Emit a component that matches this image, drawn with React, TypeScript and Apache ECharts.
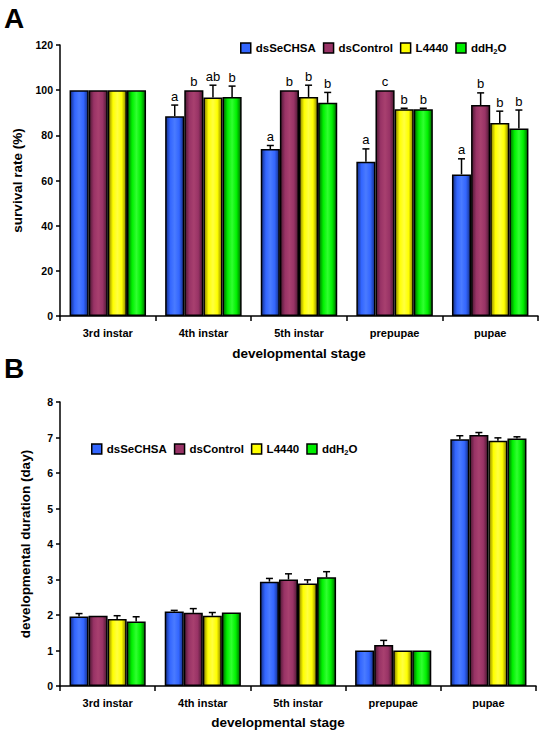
import React, { useEffect, useRef } from 'react';
import * as echarts from 'echarts';

const stages = ['3rd instar', '4th instar', '5th instar', 'prepupae', 'pupae'];
const treatments = ['dsSeCHSA', 'dsControl', 'L4440', 'ddH2O'];
const mainColors = ['#3366FF', '#993366', '#FFFF00', '#00F000'];
const darkColors = ['#15308a', '#4d1933', '#8a8200', '#006a00'];
const lightColors = ['#4a7bff', '#a8406f', '#ffff40', '#30ff30'];

// Panel A: survival rate (%)
const survDsSeCHSA = [100, 88.5, 73.9, 68.3, 62.7];
const survDsSeCHSAErr = [0, 4.9, 1.6, 5.7, 6.9];
const survDsControl = [100, 100, 100, 100, 93.4];
const survDsControlErr = [0, 0, 0, 0, 5.4];
const survL4440 = [100, 96.8, 97.0, 91.5, 85.5];
const survL4440Err = [0, 5.4, 5.2, 0.5, 5.2];
const survDdH2O = [100, 97.0, 94.4, 91.5, 83.0];
const survDdH2OErr = [0, 4.8, 4.6, 0.5, 8.2];
const survLetters = [
  ['', 'a', 'a', 'a', 'a'],
  ['', 'b', 'b', 'c', 'b'],
  ['', 'ab', 'b', 'b', 'b'],
  ['', 'b', 'b', 'b', 'b'],
];

// Panel B: developmental duration (day)
const durDsSeCHSA = [1.96, 2.10, 2.94, 1.0, 6.95];
const durDsSeCHSAErr = [0.08, 0.03, 0.09, 0, 0.10];
const durDsControl = [1.98, 2.06, 3.0, 1.155, 7.07];
const durDsControlErr = [0, 0.12, 0.16, 0.13, 0.07];
const durL4440 = [1.89, 1.98, 2.89, 1.0, 6.91];
const durL4440Err = [0.09, 0.09, 0.10, 0, 0.08];
const durDdH2O = [1.82, 2.07, 3.06, 1.0, 6.97];
const durDdH2OErr = [0.13, 0, 0.16, 0, 0.05];

const FONT = "'Liberation Sans', Arial, Helvetica, sans-serif";

function gradient(k: number) {
  return new echarts.graphic.LinearGradient(0, 0, 1, 0, [
    { offset: 0, color: darkColors[k] },
    { offset: 0.25, color: mainColors[k] },
    { offset: 0.5, color: lightColors[k] },
    { offset: 0.75, color: mainColors[k] },
    { offset: 1, color: darkColors[k] },
  ]);
}

export default function App() {
  const ref = useRef<HTMLDivElement>(null);
  useEffect(() => {
    document.body.style.margin = '0';
    if (!ref.current) return;
    const chart = echarts.init(ref.current, null, { renderer: 'svg' });

    const survMeans = [survDsSeCHSA, survDsControl, survL4440, survDdH2O];
    const survErrs = [survDsSeCHSAErr, survDsControlErr, survL4440Err, survDdH2OErr];
    const durMeans = [durDsSeCHSA, durDsControl, durL4440, durDdH2O];
    const durErrs = [durDsSeCHSAErr, durDsControlErr, durL4440Err, durDdH2OErr];

    const series: any[] = [];
    const panels = [
      { means: survMeans, errs: survErrs, letters: survLetters },
      { means: durMeans, errs: durErrs, letters: null as any },
    ];
    panels.forEach((p, pi) => {
      treatments.forEach((t, k) => {
        series.push({
          type: 'bar',
          name: t,
          xAxisIndex: pi,
          yAxisIndex: pi,
          barGap: '0%',
          barCategoryGap: '20%',
          data: p.means[k],
          itemStyle: { color: gradient(k), borderColor: '#000', borderWidth: 1.5 },
        });
      });
      treatments.forEach((t, k) => {
        const rows = stages.map((s, i) => [i, p.means[k][i], p.means[k][i] + p.errs[k][i]]);
        series.push({
          type: 'custom',
          xAxisIndex: pi,
          yAxisIndex: pi,
          z: 5,
          encode: { x: 0, y: 2 },
          data: rows,
          renderItem: (params: any, api: any) => {
            const ci = api.value(0);
            const v = api.value(1);
            const e = api.value(2);
            const w = api.size([1, 0])[0];
            const off = (k - 1.5) * 0.2 * w;
            const base = api.coord([ci, v]);
            const top = api.coord([ci, e]);
            const x = base[0] + off;
            const children: any[] = [];
            if (top[1] < base[1] - 0.5) {
              children.push({
                type: 'line',
                shape: { x1: x, y1: base[1], x2: x, y2: top[1] },
                style: { stroke: '#000', lineWidth: 1.5 },
              });
              children.push({
                type: 'line',
                shape: { x1: x - 3.5, y1: top[1], x2: x + 3.5, y2: top[1] },
                style: { stroke: '#000', lineWidth: 1.5 },
              });
            }
            if (p.letters) {
              const txt = p.letters[k][params.dataIndex];
              if (txt) {
                children.push({
                  type: 'text',
                  x: x,
                  y: top[1] - 9,
                  style: {
                    text: txt,
                    fill: '#000',
                    font: `13px ${FONT}`,
                    align: 'center',
                    verticalAlign: 'middle',
                  },
                });
              }
            }
            return { type: 'group', children };
          },
        });
      });
    });

    const legendData = treatments.map((t, k) => ({
      name: t,
      itemStyle: { color: mainColors[k], borderColor: '#000', borderWidth: 1.5 },
    }));
    const legendCommon = {
      data: legendData,
      icon: 'rect',
      itemWidth: 10,
      itemHeight: 10,
      itemGap: 7,
      padding: 0,
      selectedMode: false,
      formatter: (name: string) => (name === 'ddH2O' ? '{n|ddH}{s|2}{n|O}' : name),
      textStyle: {
        fontFamily: FONT,
        fontWeight: 'bold',
        fontSize: 11.5,
        color: '#000',
        rich: {
          n: { fontFamily: FONT, fontWeight: 'bold', fontSize: 11.5, color: '#000' },
          s: { fontFamily: FONT, fontWeight: 'bold', fontSize: 7.5, color: '#000', padding: [7, 0, 0, 0] },
        },
      },
    };

    const axisLine = { show: true, lineStyle: { color: '#000', width: 1.5 } };
    const xAxisCommon = {
      type: 'category',
      data: stages,
      axisLine,
      axisTick: { show: true, length: 5, lineStyle: { color: '#000', width: 1.5 } },
      axisLabel: { fontFamily: FONT, fontWeight: 'bold', fontSize: 11, color: '#000', margin: 11 },
      nameLocation: 'middle',
      nameTextStyle: { fontFamily: FONT, fontWeight: 'bold', fontSize: 13.5, color: '#000' },
      splitLine: { show: false },
    };
    const yAxisCommon = {
      type: 'value',
      axisLine,
      axisTick: { show: true, length: 4, lineStyle: { color: '#000', width: 1.5 } },
      axisLabel: { fontFamily: FONT, fontWeight: 'bold', fontSize: 10.5, color: '#000', margin: 7 },
      splitLine: { show: false },
      nameLocation: 'middle',
      nameGap: 28,
      nameTextStyle: { fontFamily: FONT, fontWeight: 'bold', fontSize: 13.5, color: '#000' },
    };

    chart.setOption({
      animation: false,
      backgroundColor: '#fff',
      grid: [
        { left: 60, top: 45, width: 478, height: 271 },
        { left: 60, top: 402, width: 476, height: 284 },
      ],
      legend: [
        { ...legendCommon, left: 240, top: 42 },
        { ...legendCommon, left: 91, top: 443 },
      ],
      xAxis: [
        { ...xAxisCommon, gridIndex: 0, name: 'developmental stage', nameGap: 30 },
        {
          ...xAxisCommon,
          gridIndex: 1,
          name: 'developmental stage',
          nameGap: 29,
          nameTextStyle: { ...xAxisCommon.nameTextStyle, padding: [0, 40, 0, 0] },
        },
      ],
      yAxis: [
        { ...yAxisCommon, gridIndex: 0, min: 0, max: 120, interval: 20, name: 'survival rate (%)' },
        { ...yAxisCommon, gridIndex: 1, min: 0, max: 8, interval: 1, name: 'developmental duration (day)' },
      ],
      graphic: [
        { type: 'text', left: 4, top: 4, style: { text: 'A', font: `bold 28px ${FONT}`, fill: '#000' } },
        { type: 'text', left: 4, top: 354, style: { text: 'B', font: `bold 28px ${FONT}`, fill: '#000' } },
      ],
      series,
    });
    return () => chart.dispose();
  }, []);
  return <div ref={ref} style={{ width: 543, height: 732 }} />;
}
